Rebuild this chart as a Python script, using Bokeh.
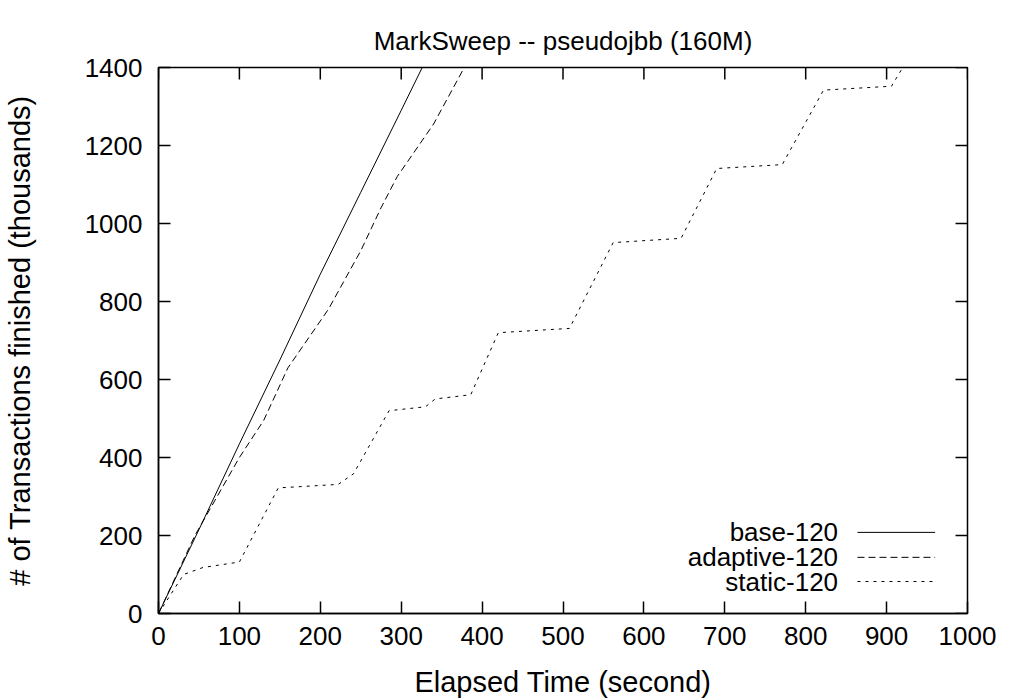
from bokeh.plotting import figure
from bokeh.models import Label, Range1d, FixedTicker
from bokeh.embed import file_html
from bokeh.resources import INLINE

# Data (elapsed seconds, thousands of transactions)
base_x = [0, 50, 100, 150, 200, 250, 300, 326]
base_y = [0, 215, 435, 650, 870, 1080, 1290, 1400]

adaptive_x = [0, 45, 100, 130, 160, 210, 250, 275, 295, 340, 378]
adaptive_y = [0, 200, 400, 495, 630, 780, 930, 1040, 1120, 1255, 1400]

static_x = [0, 31, 55, 100, 148, 222, 241, 285, 330, 342, 386, 420, 508, 562,
            646, 690, 771, 822, 906, 920]
static_y = [0, 100, 118, 132, 322, 331, 358, 520, 530, 550, 561, 720, 731, 951,
            962, 1141, 1151, 1342, 1352, 1400]

series_names = ["base-120", "adaptive-120", "static-120"]
x_ticks = [0, 100, 200, 300, 400, 500, 600, 700, 800, 900, 1000]
y_ticks = [0, 200, 400, 600, 800, 1000, 1200, 1400]

FONT = "Liberation Sans"
FS = "26px"
FS_LABEL = "29px"
XMAX, YMAX = 1000, 1400

W, H = 1013, 700
BL, BR, BT, BB = 157, 46, 67, 87
frame_w = W - BL - BR
frame_h = H - BT - BB
TICK = 12  # px

p = figure(width=W, height=H, output_backend="svg", toolbar_location=None,
           x_range=Range1d(0, XMAX), y_range=Range1d(0, YMAX),
           min_border_left=BL, min_border_right=BR, min_border_top=BT,
           min_border_bottom=BB,
           title="MarkSweep -- pseudojbb (160M)")
p.title.align = "center"
p.title.vertical_align = "top"
p.title.text_font = FONT
p.title.text_font_size = FS
p.title.text_font_style = "normal"
p.title.text_color = "black"
p.title.standoff = 20

p.xgrid.visible = False
p.ygrid.visible = False
p.outline_line_color = "black"
p.outline_line_width = 1.5

for ax, ticks in ((p.below[0], x_ticks), (p.left[0], y_ticks)):
    ax.ticker = FixedTicker(ticks=ticks)
    ax.major_tick_in = TICK
    ax.major_tick_out = 0
    ax.minor_tick_line_color = None
    ax.major_tick_line_color = "black"
    ax.major_tick_line_width = 1.5
    ax.axis_line_color = "black"
    ax.axis_line_width = 1.5
    ax.major_label_text_font = FONT
    ax.major_label_text_font_size = FS
    ax.major_label_text_color = "black"
    ax.axis_label_text_font = FONT
    ax.axis_label_text_font_size = FS_LABEL
    ax.axis_label_text_font_style = "normal"
    ax.axis_label_text_color = "black"

p.below[0].axis_label = "Elapsed Time (second)"
p.left[0].axis_label = "# of Transactions finished (thousands)"
p.below[0].major_label_standoff = 13
p.left[0].major_label_standoff = 16
p.below[0].axis_label_standoff = 18
p.left[0].axis_label_standoff = 46

# mirrored inward ticks on top and right edges
dx = TICK * XMAX / frame_w
dy = TICK * YMAX / frame_h
p.segment(x0=x_ticks, y0=[YMAX] * len(x_ticks), x1=x_ticks,
          y1=[YMAX - dy] * len(x_ticks), line_color="black", line_width=1.5)
p.segment(x0=[XMAX] * len(y_ticks), y0=y_ticks, x1=[XMAX - dx] * len(y_ticks),
          y1=y_ticks, line_color="black", line_width=1.5)

p.line(base_x, base_y, line_color="black", line_width=1)
p.line(adaptive_x, adaptive_y, line_color="black", line_width=1, line_dash="7 4")
p.line(static_x, static_y, line_color="black", line_width=1, line_dash="3 5")

# Gnuplot-style key: label on the left, line sample on the right
dashes = ["solid", "7 4", "3 5"]
key_y = [208, 144, 82]
for name, dash, ky in zip(series_names, dashes, key_y):
    p.segment(x0=[864], y0=[ky], x1=[960], y1=[ky], line_color="black",
              line_width=1, line_dash=dash)
    p.add_layout(Label(x=840, y=ky, text=name, text_align="right",
                       text_baseline="middle", text_font=FONT,
                       text_font_size=FS, text_color="black"))

open("out.html", "w").write(file_html(p, INLINE))
